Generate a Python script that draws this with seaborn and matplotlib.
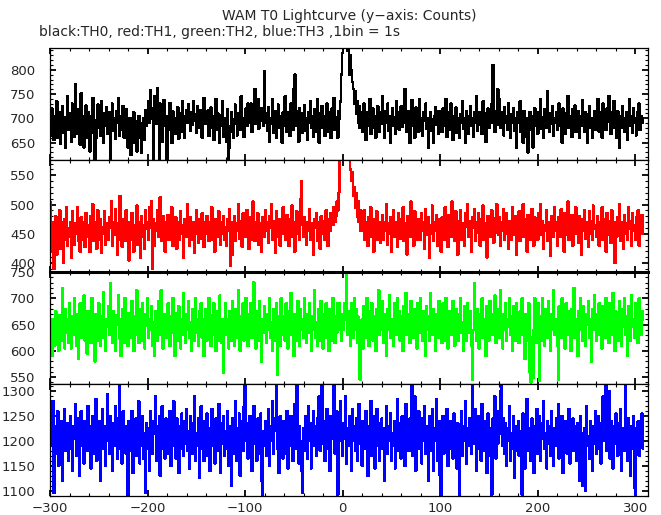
import numpy as np
import pandas as pd
import seaborn as sns
import matplotlib.pyplot as plt
from matplotlib.ticker import MultipleLocator

sns.set_theme(style="white")
plt.rcParams['font.family'] = ['DejaVu Sans']

T_START = -300  # first bin time (s), 1 bin = 1 s

th0 = [
    700, 665, 720, 690, 655, 705, 680, 735, 660, 695, 712, 648, 690, 725, 670, 702, 640, 688, 745, 676,
    695, 710, 652, 730, 684, 662, 771, 700, 668, 718, 690, 645, 752, 705, 678, 640, 698, 726, 660, 712,
    684, 632, 705, 690, 742, 670, 612, 658, 696, 728, 680, 702, 664, 736, 690, 650, 710, 684, 722, 668,
    696, 712, 615, 688, 730, 675, 700, 658, 715, 690, 742, 664, 698, 705, 676, 725, 660, 690, 718, 682,
    640, 676, 700, 625, 688, 660, 712, 650, 694, 632, 680, 705, 660, 690, 628, 672, 700, 655, 716, 685,
    705, 735, 690, 758, 700, 720, 612, 745, 700, 688, 762, 710, 615, 730, 690, 652, 712, 738, 684, 700,
    612, 705, 690, 732, 676, 650, 714, 698, 668, 700, 685, 722, 658, 690, 710, 672, 735, 696, 660, 705,
    716, 690, 728, 700, 675, 712, 686, 735, 694, 708, 670, 724, 698, 680, 716, 690, 660, 705, 742, 688,
    702, 690, 716, 664, 695, 722, 680, 705, 655, 690, 740, 676, 710, 692, 650, 706, 684, 736, 662, 700,
    690, 652, 718, 614, 640, 684, 712, 672, 660, 698, 728, 688, 665, 710, 694, 676, 745, 700, 683, 662,
    700, 720, 684, 730, 705, 690, 730, 672, 715, 698, 760, 688, 712, 740, 678, 702, 720, 696, 720, 684,
    798, 710, 690, 675, 722, 652, 700, 688, 740, 670, 698, 715, 660, 694, 728, 680, 705, 690, 650, 712,
    685, 745, 700, 672, 712, 690, 664, 730, 698, 676, 760, 790, 684, 715, 694, 652, 720, 688, 710, 670,
    698, 726, 674, 700, 655, 712, 690, 735, 680, 704, 662, 718, 694, 672, 740, 700, 650, 710, 690, 725,
    680, 705, 664, 690, 730, 672, 712, 695, 660, 720, 688, 742, 676, 702, 690, 660, 715, 700, 735, 790,
    835, 870, 850, 880, 860, 840, 875, 790, 830, 800, 775, 760, 730, 755, 710, 735, 690, 725, 680, 712,
    700, 672, 730, 690, 655, 712, 684, 702, 740, 668, 695, 720, 680, 705, 660, 690, 725, 700, 672, 712,
    688, 745, 696, 660, 715, 690, 730, 674, 705, 650, 698, 720, 684, 702, 668, 735, 690, 712, 676, 700,
    725, 682, 708, 690, 760, 700, 672, 715, 692, 650, 710, 738, 684, 700, 660, 722, 690, 706, 672, 740,
    700, 688, 664, 712, 695, 730, 678, 700, 640, 690, 712, 674, 698, 650, 705, 722, 686, 700, 668, 715,
    690, 705, 672, 720, 700, 685, 740, 662, 698, 712, 676, 730, 690, 655, 704, 688, 722, 670, 700, 694,
    660, 708, 690, 735, 678, 700, 650, 715, 692, 668, 705, 725, 684, 700, 662, 712, 690, 745, 674, 698,
    712, 686, 700, 668, 735, 690, 710, 652, 698, 720, 680, 705, 690, 730, 810, 700, 672, 715, 686, 760,
    700, 740, 680, 712, 695, 665, 722, 690, 705, 676, 730, 692, 660, 708, 690, 720, 674, 700, 640, 712,
    690, 705, 735, 672, 698, 650, 715, 688, 700, 662, 630, 690, 712, 676, 705, 640, 695, 720, 684, 700,
    668, 712, 690, 740, 678, 702, 660, 718, 694, 680, 755, 700, 672, 710, 688, 725, 664, 700, 690, 712,
    676, 698, 730, 684, 705, 650, 720, 692, 668, 710, 700, 745, 680, 705, 690, 662, 718, 694, 726, 672,
    700, 690, 715, 660, 705, 684, 738, 698, 672, 712, 690, 650, 708, 725, 680, 700, 660, 690, 715, 676,
    704, 690, 740, 672, 712, 695, 660, 730, 688, 705, 676, 720, 692, 745, 700, 668, 712, 690, 736, 680,
    698, 660, 715, 690, 640, 705, 680, 725, 700, 672, 690, 712, 655, 700, 740, 684, 705, 670, 720, 690,
    700, 665, 712, 690, 730, 676, 705, 690, 700,
]

th1 = [
    505, 430, 470, 420, 390, 440, 480, 415, 462, 448, 490, 425, 470, 452, 400, 475, 440, 495, 430, 460,
    445, 470, 410, 488, 455, 432, 468, 450, 495, 438, 462, 420, 478, 450, 440, 470, 428, 485, 455, 445,
    465, 420, 480, 450, 500, 438, 470, 455, 425, 490, 460, 440, 475, 418, 462, 450, 488, 432, 468, 455,
    440, 478, 460, 505, 430, 470, 448, 492, 455, 415, 468, 440, 515, 460, 428, 475, 450, 438, 490, 462,
    450, 405, 470, 440, 485, 455, 420, 465, 448, 498, 432, 470, 455, 410, 480, 445, 465, 425, 490, 458,
    470, 440, 495, 460, 505, 390, 475, 430, 468, 455, 490, 445, 470, 512, 458, 438, 480, 465, 420, 470,
    455, 482, 440, 470, 460, 495, 430, 462, 448, 478, 425, 470, 455, 440, 488, 450, 465, 410, 475, 458,
    445, 500, 460, 430, 478, 455, 440, 470, 418, 462, 490, 450, 435, 475, 460, 442, 485, 455, 428, 470,
    450, 480, 462, 438, 470, 455, 495, 440, 468, 420, 475, 458, 445, 488, 460, 432, 470, 450, 480, 440,
    462, 430, 475, 455, 492, 395, 470, 415, 460, 480, 438, 468, 455, 500, 442, 472, 460, 428, 485, 450,
    470, 445, 490, 460, 425, 478, 455, 440, 505, 462, 438, 470, 450, 485, 432, 468, 455, 420, 478, 460,
    445, 490, 455, 470, 435, 480, 460, 500, 440, 472, 455, 418, 488, 462, 445, 475, 430, 470, 458, 495,
    450, 468, 440, 482, 460, 430, 475, 455, 498, 445, 470, 420, 462, 488, 450, 472, 440, 510, 540, 465,
    445, 478, 460, 432, 470, 455, 492, 440, 468, 450, 415, 475, 460, 485, 438, 470, 455, 425, 480, 462,
    450, 472, 440, 490, 460, 430, 475, 455, 485, 465, 465, 495, 470, 480, 505, 490, 520, 575, 590, 600,
    600, 585, 610, 590, 595, 598, 580, 585, 560, 540, 555, 515, 530, 495, 520, 480, 505, 470, 490, 455,
    475, 455, 490, 440, 470, 460, 430, 478, 452, 495, 445, 468, 420, 475, 455, 488, 440, 462, 470, 435,
    458, 482, 440, 470, 455, 500, 432, 468, 450, 478, 420, 462, 490, 445, 470, 455, 428, 485, 460, 442,
    475, 450, 495, 438, 468, 455, 415, 480, 462, 445, 505, 458, 470, 430, 488, 452, 468, 440, 475, 460,
    440, 485, 455, 470, 425, 492, 460, 448, 478, 410, 465, 450, 498, 438, 470, 455, 482, 430, 462, 475,
    450, 420, 478, 460, 440, 495, 455, 470, 428, 482, 462, 445, 505, 450, 470, 438, 488, 458, 415, 472,
    455, 490, 440, 468, 450, 430, 485, 462, 500, 445, 472, 455, 420, 478, 460, 492, 438, 470, 452, 485,
    462, 430, 475, 455, 498, 440, 468, 450, 410, 480, 458, 472, 445, 490, 460, 435, 476, 452, 500, 465,
    448, 478, 430, 470, 455, 492, 440, 462, 485, 450, 425, 472, 458, 440, 495, 465, 448, 480, 415, 470,
    455, 488, 438, 468, 452, 500, 445, 475, 460, 420, 482, 455, 470, 440, 492, 462, 430, 478, 450, 468,
    440, 485, 460, 500, 448, 472, 425, 465, 455, 490, 438, 470, 458, 412, 480, 462, 445, 495, 455, 470,
    430, 478, 460, 445, 492, 455, 470, 420, 485, 462, 448, 505, 440, 468, 455, 482, 430, 470, 458, 495,
    450, 468, 435, 480, 460, 415, 475, 455, 490, 442, 470, 462, 428, 488, 450, 472, 440, 498, 458, 465,
    445, 480, 455, 430, 470, 462, 495, 440, 475, 452, 420, 485, 460, 448, 472, 435, 490, 458, 470, 400,
    462, 445, 478, 455, 500, 438, 470, 460, 425, 482, 450, 468, 440, 495, 458, 472, 430, 485, 455, 465,
    440, 478, 455, 490, 430, 470, 460, 482, 450,
]

th2 = [
    620, 655, 590, 660, 640, 610, 675, 630, 655, 600, 668, 640, 620, 720, 650, 605, 680, 635, 660, 615,
    690, 640, 605, 665, 630, 700, 645, 610, 670, 585, 655, 690, 625, 660, 640, 705, 620, 650, 595, 675,
    640, 665, 615, 700, 635, 655, 580, 670, 645, 620, 690, 650, 610, 665, 625, 712, 640, 600, 660, 645,
    685, 630, 728, 655, 615, 675, 640, 600, 668, 650, 705, 625, 660, 590, 645, 680, 615, 700, 635, 655,
    610, 672, 640, 625, 695, 650, 600, 665, 630, 715, 645, 615, 680, 655, 620, 690, 640, 605, 670, 648,
    700, 625, 660, 640, 685, 610, 655, 590, 675, 645, 620, 695, 660, 630, 715, 650, 605, 670, 640, 660,
    625, 690, 645, 610, 665, 635, 700, 655, 590, 672, 640, 620, 685, 650, 605, 660, 630, 710, 645, 615,
    670, 640, 695, 625, 655, 600, 680, 645, 620, 700, 660, 635, 610, 675, 650, 690, 625, 660, 590, 645,
    680, 620, 655, 700, 640, 610, 668, 630, 690, 650, 600, 675, 640, 620, 705, 655, 615, 660, 558, 645,
    690, 630, 660, 605, 675, 645, 620, 695, 650, 610, 680, 640, 625, 715, 655, 600, 665, 640, 690, 620,
    655, 700, 635, 610, 670, 645, 690, 625, 660, 730, 640, 605, 675, 650, 620, 695, 640, 580, 660, 635,
    685, 650, 615, 670, 640, 700, 625, 655, 600, 680, 645, 620, 690, 555, 640, 665, 610, 700, 650, 630,
    665, 620, 690, 645, 605, 675, 640, 710, 630, 655, 590, 670, 645, 620, 695, 650, 610, 680, 640, 660,
    625, 700, 645, 615, 670, 635, 690, 650, 600, 665, 640, 715, 625, 655, 610, 680, 645, 620, 695, 650,
    605, 670, 640, 690, 625, 660, 600, 680, 645, 620, 700, 650, 615, 665, 635, 690, 640, 690, 655, 620,
    670, 640, 690, 660, 752, 630, 675, 645, 610, 690, 655, 625, 700, 640, 680, 615, 665, 645, 545, 630,
    660, 605, 685, 645, 625, 700, 655, 610, 675, 640, 690, 620, 665, 645, 600, 680, 650, 715, 630, 660,
    640, 695, 615, 670, 650, 590, 680, 640, 705, 625, 660, 645, 610, 690, 655, 630, 700, 640, 675, 620,
    665, 640, 600, 685, 650, 710, 630, 670, 645, 615, 695, 655, 625, 680, 640, 660, 605, 690, 650, 635,
    700, 645, 620, 675, 655, 590, 685, 640, 665, 620, 710, 650, 630, 680, 645, 600, 670, 655, 625, 695,
    640, 660, 615, 690, 650, 620, 700, 645, 605, 675, 640, 660, 630, 695, 650, 610, 680, 645, 670, 620,
    665, 700, 635, 655, 600, 685, 645, 620, 690, 660, 635, 675, 610, 545, 640, 728, 650, 620, 680, 645,
    605, 670, 650, 700, 625, 660, 640, 590, 685, 650, 620, 695, 655, 630, 670, 640, 705, 615, 660, 645,
    680, 625, 715, 650, 605, 670, 640, 690, 620, 660, 645, 700, 630, 665, 600, 685, 650, 620, 690, 645,
    660, 615, 675, 640, 700, 630, 655, 585, 670, 645, 620, 690, 560, 540, 625, 548, 640, 700, 615, 660,
    640, 690, 543, 665, 620, 700, 650, 610, 680, 645, 625, 695, 655, 600, 670, 640, 715, 630, 660, 645,
    610, 545, 685, 650, 625, 700, 640, 665, 605, 690, 655, 630, 675, 645, 600, 680, 650, 720, 625, 660,
    645, 590, 675, 640, 700, 655, 620, 685, 645, 610, 670, 650, 695, 625, 660, 580, 680, 640, 705, 655,
    620, 670, 645, 690, 630, 660, 605, 685, 650, 625, 700, 640, 665, 615, 690, 645, 630, 710, 655, 600,
    675, 640, 660, 620, 695, 650, 610, 680, 645, 700, 630, 665, 590, 685, 650, 620, 705, 645, 660, 625,
    690, 640, 670, 615, 700, 650, 630, 675, 660,
]

th3 = [
    1250, 1190, 1215, 1280, 1095, 1230, 1175, 1210, 1260, 1150, 1225, 1195, 1240, 1120, 1215, 1265, 1180, 1205, 1235, 1160,
    1220, 1250, 1185, 1140, 1230, 1205, 1275, 1170, 1215, 1245, 1130, 1200, 1260, 1190, 1225, 1155, 1240, 1210, 1180, 1270,
    1195, 1230, 1145, 1215, 1250, 1175, 1205, 1285, 1160, 1225, 1190, 1240, 1120, 1210, 1265, 1185, 1230, 1150, 1220, 1295,
    1200, 1175, 1250, 1215, 1140, 1235, 1190, 1270, 1210, 1165, 1245, 1318, 1185, 1225, 1155, 1260, 1200, 1230, 1175, 1215,
    1092, 1240, 1180, 1215, 1260, 1135, 1225, 1195, 1245, 1170, 1210, 1280, 1155, 1230, 1190, 1250, 1165, 1215, 1095, 1235,
    1185, 1225, 1140, 1260, 1205, 1175, 1240, 1215, 1290, 1160, 1230, 1195, 1250, 1130, 1210, 1270, 1185, 1225, 1165, 1245,
    1205, 1175, 1235, 1260, 1150, 1215, 1190, 1280, 1225, 1165, 1245, 1200, 1135, 1230, 1185, 1255, 1210, 1170, 1240, 1195,
    1265, 1180, 1220, 1145, 1250, 1205, 1175, 1235, 1290, 1160, 1215, 1190, 1245, 1125, 1225, 1270, 1185, 1210, 1160, 1240,
    1200, 1255, 1170, 1225, 1140, 1210, 1265, 1190, 1230, 1155, 1245, 1205, 1180, 1275, 1215, 1135, 1235, 1195, 1250, 1170,
    1220, 1185, 1260, 1150, 1230, 1200, 1110, 1245, 1175, 1215, 1280, 1160, 1225, 1190, 1255, 1130, 1210, 1240, 1180, 1270,
    1318, 1200, 1235, 1165, 1215, 1250, 1185, 1140, 1225, 1270, 1195, 1230, 1160, 1245, 1210, 1175, 1255, 1120, 1092, 1220,
    1190, 1240, 1170, 1215, 1265, 1150, 1230, 1200, 1280, 1175, 1220, 1245, 1318, 1185, 1210, 1135, 1250, 1195, 1225, 1165,
    1240, 1205, 1175, 1260, 1145, 1220, 1190, 1250, 1215, 1160, 1235, 1275, 1185, 1318, 1210, 1155, 1230, 1200, 1140, 1095,
    1225, 1180, 1250, 1210, 1165, 1270, 1200, 1235, 1145, 1215, 1260, 1190, 1230, 1170, 1245, 1205, 1290, 1180, 1220, 1318,
    1195, 1240, 1160, 1225, 1265, 1185, 1215, 1140, 1250, 1205, 1230, 1318, 1175, 1220, 1260, 1092, 1245, 1200, 1280, 1215,
    1170, 1235, 1205, 1290, 1155, 1225, 1190, 1250, 1215, 1140, 1265, 1200, 1230, 1180, 1245, 1160, 1210, 1275, 1195, 1225,
    1150, 1240, 1205, 1185, 1260, 1215, 1130, 1230, 1195, 1280, 1170, 1220, 1250, 1145, 1210, 1265, 1190, 1235, 1160, 1215,
    1245, 1185, 1225, 1120, 1205, 1270, 1175, 1230, 1200, 1255, 1160, 1215, 1190, 1240, 1145, 1225, 1285, 1180, 1210, 1235,
    1165, 1250, 1200, 1225, 1150, 1275, 1195, 1230, 1180, 1245, 1210, 1318, 1170, 1220, 1290, 1140, 1235, 1205, 1260, 1185,
    1215, 1155, 1245, 1200, 1270, 1175, 1230, 1195, 1120, 1250, 1210, 1180, 1265, 1140, 1225, 1200, 1285, 1160, 1215, 1240,
    1130, 1092, 1205, 1250, 1175, 1230, 1195, 1265, 1150, 1220, 1185, 1240, 1210, 1165, 1255, 1200, 1225, 1145, 1235, 1180,
    1092, 1215, 1260, 1170, 1230, 1200, 1280, 1155, 1225, 1190, 1245, 1210, 1175, 1318, 1235, 1195, 1265, 1140, 1220, 1250,
    1185, 1230, 1160, 1275, 1205, 1240, 1180, 1220, 1135, 1255, 1200, 1225, 1170, 1092, 1245, 1210, 1290, 1165, 1230, 1195,
    1260, 1215, 1300, 1318, 1190, 1245, 1175, 1235, 1150, 1225, 1200, 1270, 1160, 1215, 1185, 1250, 1125, 1230, 1205, 1180,
    1240, 1170, 1220, 1195, 1092, 1255, 1210, 1145, 1235, 1285, 1180, 1225, 1200, 1160, 1245, 1215, 1135, 1230, 1190, 1265,
    1175, 1220, 1250, 1160, 1235, 1205, 1280, 1185, 1215, 1145, 1240, 1195, 1230, 1170, 1260, 1210, 1150, 1225, 1190, 1245,
    1205, 1275, 1165, 1220, 1185, 1250, 1135, 1230, 1200, 1240, 1175, 1215, 1265, 1155, 1225, 1195, 1245, 1180, 1210, 1230,
    1160, 1235, 1200, 1120, 1250, 1215, 1110, 1185, 1225, 1100, 1270, 1190, 1210, 1165, 1240, 1205, 1140, 1230, 1195, 1260,
    1175, 1220, 1250, 1185, 1235, 1155, 1210, 1290, 1200, 1245, 1318, 1180, 1225, 1300, 1165, 1240, 1210, 1145, 1230, 1195,
    1255, 1215, 1170, 1235, 1190, 1265, 1140, 1225, 1205, 1180, 1318, 1215, 1160, 1245, 1200, 1130, 1230, 1185, 1250, 1105,
    1092, 1225, 1195, 1240, 1170, 1215, 1200, 1255, 1185,
]

names = ["TH0", "TH1", "TH2", "TH3"]
colors = ["black", "#ff0000", "#00ff00", "#0000ff"]
ylims = [(614, 845), (385, 576), (537, 750), (1089, 1315)]
major_y = [50, 50, 50, 50]
minor_y = [10, 10, 10, 10]
xlim = (-300, 313)
xticks = [-300, -200, -100, 0, 100, 200, 300]

W, H = 661, 515
fig = plt.figure(figsize=(W / 100, H / 100), dpi=100)
fig.patch.set_facecolor("white")

x0, x1 = 50, 648
tops = [48, 160, 272, 384]
ph = 112

for i, (name, vals, col) in enumerate(zip(names, [th0, th1, th2, th3], colors)):
    ax = fig.add_axes([x0 / W, 1 - (tops[i] + ph) / H, (x1 - x0) / W, ph / H])
    df = pd.DataFrame({"time": np.arange(T_START, T_START + len(vals)), "counts": vals})
    sns.lineplot(data=df, x="time", y="counts", ax=ax, color=col, lw=1.1,
                 drawstyle="steps-mid", estimator=None, legend=False,
                 antialiased=False)
    ax.set_xlim(*xlim)
    ax.set_ylim(*ylims[i])
    ax.set_xlabel("")
    ax.set_ylabel("")
    ax.set_facecolor("white")
    ax.xaxis.set_major_locator(MultipleLocator(100))
    ax.xaxis.set_minor_locator(MultipleLocator(20))
    ax.yaxis.set_major_locator(MultipleLocator(major_y[i]))
    ax.yaxis.set_minor_locator(MultipleLocator(minor_y[i]))
    ax.tick_params(which="both", direction="in", top=True, right=True, bottom=True, left=True,
                   color="black")
    ax.tick_params(which="major", length=4.5, width=1.3)
    ax.tick_params(which="minor", length=2.2, width=0.8)
    ax.tick_params(axis="y", which="major", pad=10.5, labelsize=9.5)
    ax.tick_params(axis="x", which="major", pad=4.5, labelsize=9.5)
    for s in ax.spines.values():
        s.set_color("black")
        s.set_linewidth(0.9)
    if i == 2:
        ax.spines["top"].set_linewidth(2.2)
    if i < 3:
        ax.tick_params(axis="x", labelbottom=False)
    else:
        ax.set_xticks(xticks)

fig.text((x0 + x1) / 2 / W, 1 - 20 / H, "WAM T0 Lightcurve (y\u2212axis: Counts)",
         ha="center", va="baseline", fontsize=10)
fig.text(39 / W, 1 - 36 / H, "black:TH0, red:TH1, green:TH2, blue:TH3 ,1bin = 1s",
         ha="left", va="baseline", fontsize=10)

fig.savefig("out.png", dpi=100, facecolor="white")
